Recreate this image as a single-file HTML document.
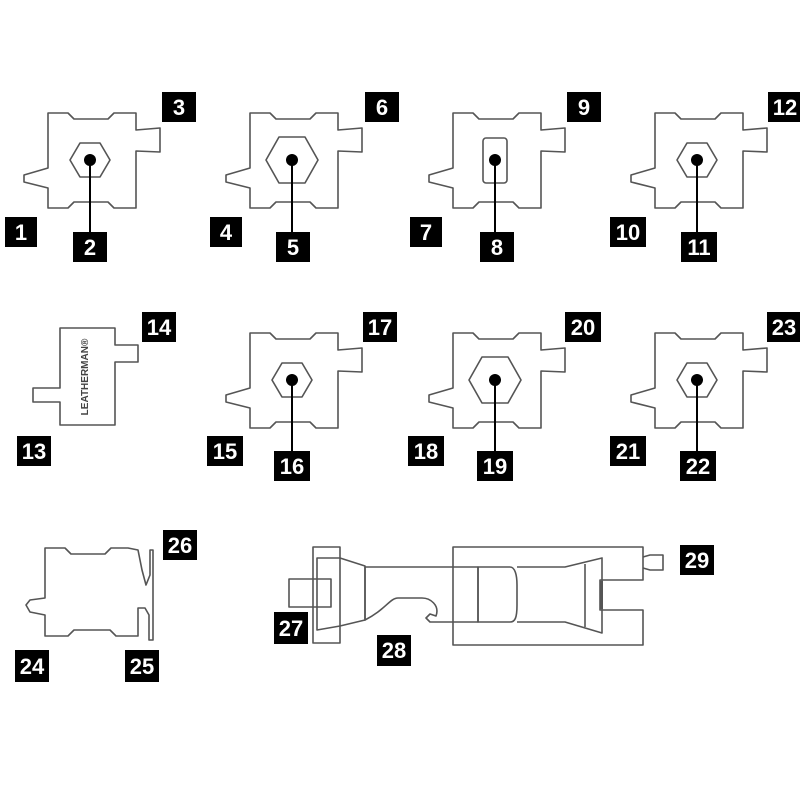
<!DOCTYPE html><html><head><style>
body{margin:0;background:#fff}
svg{display:block}
.o{fill:none;stroke:#555;stroke-width:1.6;stroke-linejoin:round}
.lb{fill:#000}
.t{fill:#fff;font-family:"Liberation Sans",sans-serif;font-weight:bold;font-size:22px;text-anchor:middle}
</style></head><body>
<svg width="800" height="800" viewBox="0 0 800 800">
<defs>
<path id="body" class="o" d="M48,113 H68 L74,119 H108 L114,113 H136 V130 L160,128 V152 L136,151 V208 H114 L108,202 H74 L68,208 H48 V188 L24,182 L24,175 L48,168 Z"/>
<g id="hexs"><polygon class="o" points="80,143 100,143 110,160 100,177 80,177 70,160"/><circle cx="90" cy="160" r="6"/><line x1="90" y1="160" x2="90" y2="233" stroke="#000" stroke-width="2"/></g>
<g id="hexl"><polygon class="o" points="77,137 103,137 116,160 103,183 77,183 64,160"/><circle cx="90" cy="160" r="6"/><line x1="90" y1="160" x2="90" y2="233" stroke="#000" stroke-width="2"/></g>
</defs>
<!-- row 1 -->
<use href="#body"/><use href="#hexs"/>
<g transform="translate(202,0)"><use href="#body"/><use href="#hexl"/></g>
<g transform="translate(405,0)"><use href="#body"/><rect class="o" x="78" y="138" width="24" height="45" rx="3"/><circle cx="90" cy="160" r="6"/><line x1="90" y1="160" x2="90" y2="233" stroke="#000" stroke-width="2"/></g>
<g transform="translate(607,0)"><use href="#body"/><use href="#hexs"/></g>
<!-- row 2 -->
<path class="o" d="M60,328 H115 V345 H138 V362 H115 V425 H60 V402 H33 V388 H60 Z"/>
<text x="88" y="377" transform="rotate(-90 88 377)" font-family="Liberation Sans,sans-serif" font-weight="bold" font-size="10" text-anchor="middle" fill="#444">LEATHERMAN®</text>
<g transform="translate(202,220)"><use href="#body"/><use href="#hexs"/></g>
<g transform="translate(405,220)"><use href="#body"/><use href="#hexl"/></g>
<g transform="translate(607,220)"><use href="#body"/><use href="#hexs"/></g>
<!-- row 3 left -->
<path class="o" d="M45,548 H65 L71,554 H105 L111,548 H128 L138,550 L142,570 L146,585 L150,575 L150,550 H153 V640 H149 V615 L145,608 H138 V636 H116 L110,630 H74 L68,636 H45 V615 L30,612 L26,605 L30,600 L45,598 Z"/>
<!-- big tool -->
<rect class="o" x="313" y="547" width="27" height="96"/>
<path class="o" d="M317,558 L340,558 L365,566 V620 L340,626 L317,630 Z" fill="#fff"/>
<rect class="o" x="289" y="579" width="42" height="28" fill="#fff"/>
<path class="o" d="M453,547 H643 V580 H600 V610 H643 V645 H453 Z"/>
<path class="o" d="M365,567 H478 V622 H430 L426,618 L430,614 L436,616 C440,605 430,598 422,598 H398 C390,598 385,610 365,620 Z" fill="#fff"/>
<path class="o" d="M478,567 H510 C515,567 517,575 517,585 V605 C517,618 515,622 510,622 H478 Z" fill="#fff"/>
<path class="o" d="M517,567 H565 L602,558 V633 L565,622 H517" fill="#fff"/>
<line class="o" x1="585" y1="564" x2="585" y2="627"/>
<rect x="600" y="581" width="3" height="28" fill="#555"/>
<path class="o" d="M643,557 L650,555 H663 V570 H650 L643,568"/>
<!-- labels -->
<g>
<rect class="lb" x="5" y="217" width="32" height="30"/><text class="t" x="21" y="240">1</text>
<rect class="lb" x="73" y="232" width="34" height="30"/><text class="t" x="90" y="255">2</text>
<rect class="lb" x="162" y="92" width="34" height="30"/><text class="t" x="179" y="115">3</text>
<rect class="lb" x="210" y="217" width="32" height="30"/><text class="t" x="226" y="240">4</text>
<rect class="lb" x="276" y="232" width="34" height="30"/><text class="t" x="293" y="255">5</text>
<rect class="lb" x="365" y="92" width="34" height="30"/><text class="t" x="382" y="115">6</text>
<rect class="lb" x="410" y="217" width="32" height="30"/><text class="t" x="426" y="240">7</text>
<rect class="lb" x="480" y="232" width="34" height="30"/><text class="t" x="497" y="255">8</text>
<rect class="lb" x="567" y="92" width="34" height="30"/><text class="t" x="584" y="115">9</text>
<rect class="lb" x="610" y="217" width="36" height="30"/><text class="t" x="628" y="240">10</text>
<rect class="lb" x="681" y="232" width="36" height="30"/><text class="t" x="699" y="255">11</text>
<rect class="lb" x="768" y="92" width="34" height="30"/><text class="t" x="785" y="115">12</text>
<rect class="lb" x="17" y="436" width="34" height="30"/><text class="t" x="34" y="459">13</text>
<rect class="lb" x="142" y="312" width="34" height="30"/><text class="t" x="159" y="335">14</text>
<rect class="lb" x="207" y="436" width="36" height="30"/><text class="t" x="225" y="459">15</text>
<rect class="lb" x="274" y="451" width="36" height="30"/><text class="t" x="292" y="474">16</text>
<rect class="lb" x="363" y="312" width="34" height="30"/><text class="t" x="380" y="335">17</text>
<rect class="lb" x="408" y="436" width="36" height="30"/><text class="t" x="426" y="459">18</text>
<rect class="lb" x="477" y="451" width="36" height="30"/><text class="t" x="495" y="474">19</text>
<rect class="lb" x="565" y="312" width="36" height="30"/><text class="t" x="583" y="335">20</text>
<rect class="lb" x="610" y="436" width="36" height="30"/><text class="t" x="628" y="459">21</text>
<rect class="lb" x="680" y="451" width="36" height="30"/><text class="t" x="698" y="474">22</text>
<rect class="lb" x="767" y="312" width="34" height="30"/><text class="t" x="784" y="335">23</text>
<rect class="lb" x="15" y="650" width="34" height="32"/><text class="t" x="32" y="674">24</text>
<rect class="lb" x="125" y="650" width="34" height="32"/><text class="t" x="142" y="674">25</text>
<rect class="lb" x="163" y="530" width="34" height="30"/><text class="t" x="180" y="553">26</text>
<rect class="lb" x="274" y="612" width="34" height="32"/><text class="t" x="291" y="636">27</text>
<rect class="lb" x="377" y="635" width="34" height="31"/><text class="t" x="394" y="658">28</text>
<rect class="lb" x="680" y="545" width="34" height="30"/><text class="t" x="697" y="568">29</text>
</g>
</svg>
</body></html>
